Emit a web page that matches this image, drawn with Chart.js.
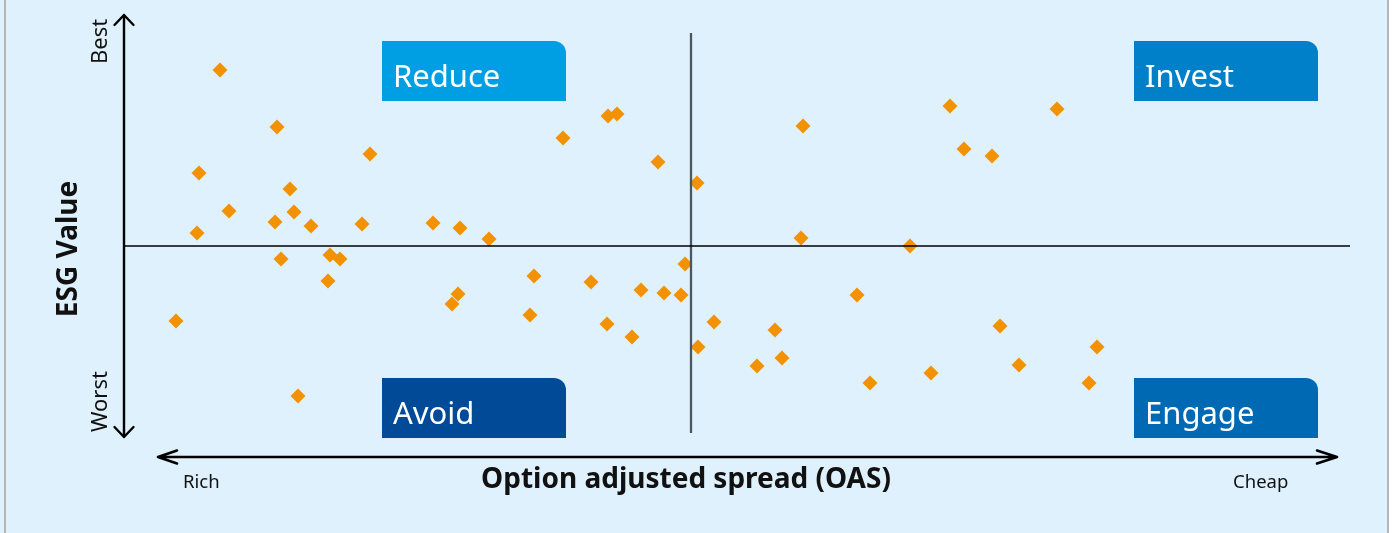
<!DOCTYPE html>
<html>
<head>
<meta charset="utf-8">
<script src="https://cdn.jsdelivr.net/npm/chart.js@4"></script>
<style>
  html, body { margin: 0; padding: 0; background: #dff1fc; }
  #wrap { width: 1392px; height: 533px; position: relative; }
</style>
</head>
<body>
<div id="wrap"><canvas id="esgChart"></canvas></div>
<script>
// OAS score (rich -> cheap) and ESG score (worst -> best) per bond
const oasValues = [
  9.5, 15.2, 24.5, 7.4, 16.5, 10.4, 16.9, 15.0, 18.6, 23.7,
  7.2, 15.6, 20.5, 21.5, 20.3, 5.1, 17.3, 48.3, 49.2, 43.8,
  53.3, 30.8, 33.5, 36.4, 56.0, 40.9, 46.6, 51.6, 53.9, 55.6,
  33.3, 32.7, 40.5, 48.2, 50.7, 57.2, 82.5, 93.2, 67.8, 83.9,
  86.7, 67.6, 78.5, 73.2, 58.9, 65.0, 87.5, 57.3, 97.2, 65.7,
  63.2, 89.4, 80.6, 74.5, 96.4
];
const esgValues = [
  36.3, 30.6, 27.9, 26.0, 24.4, 22.2, 22.1, 21.1, 20.7, 20.9,
  20.0, 17.4, 17.8, 17.4, 15.2, 11.2, 3.7, 31.7, 31.9, 29.5,
  27.1, 21.0, 20.5, 19.4, 16.9, 15.7, 15.1, 14.3, 14.0, 13.8,
  13.9, 12.9, 11.8, 10.9, 9.6, 25.0, 32.7, 32.4, 30.7, 28.4,
  27.7, 19.5, 18.7, 13.8, 11.1, 10.3, 10.7, 8.6, 8.6, 7.5,
  6.7, 6.8, 6.0, 5.0, 5.0
];
const oasRange = [0, 122.5];
const esgRange = [0, 40];
const oasSplit = 56.6;
const esgSplit = 18.7;

const quadrants = [
  { name: "Reduce", color: "#009fe3", x: 382, y: 41 },
  { name: "Invest", color: "#0080c8", x: 1134, y: 41 },
  { name: "Avoid", color: "#004a98", x: 382, y: 378 },
  { name: "Engage", color: "#0069b4", x: 1134, y: 378 },
];

const FONT = "'Noto Sans', sans-serif";

const points = oasValues.map((x, i) => ({ x, y: esgValues[i] }));

// background, frame, axis arrows and quadrant boxes
const decorPlugin = {
  id: "decor",
  beforeDraw(chart) {
    const ctx = chart.ctx;
    ctx.save();
    ctx.fillStyle = "#dff1fc";
    ctx.fillRect(0, 0, chart.width, chart.height);
    ctx.fillStyle = "#b3b7ba";
    ctx.fillRect(4, 0, 2, chart.height);
    ctx.fillRect(1387, 0, 2, chart.height);
    ctx.fillStyle = "#ffffff";
    ctx.fillRect(1389, 0, 3, chart.height);

    ctx.strokeStyle = "#000";
    ctx.lineCap = "round";
    ctx.lineJoin = "round";

    // vertical arrow
    ctx.lineWidth = 2.4;
    ctx.beginPath();
    ctx.moveTo(124, 15); ctx.lineTo(124, 437);
    ctx.moveTo(114.5, 25); ctx.lineTo(124, 15); ctx.lineTo(133.5, 25);
    ctx.moveTo(114.5, 427); ctx.lineTo(124, 437); ctx.lineTo(133.5, 427);
    ctx.stroke();

    // horizontal arrow
    ctx.lineWidth = 2.6;
    ctx.beginPath();
    ctx.moveTo(158, 457); ctx.lineTo(1337, 457);
    ctx.moveTo(177, 450.5); ctx.lineTo(158, 457); ctx.lineTo(177, 463.5);
    ctx.moveTo(1317, 450.5); ctx.lineTo(1337, 457); ctx.lineTo(1317, 463.5);
    ctx.stroke();

    // axis texts
    ctx.fillStyle = "#111";
    ctx.font = "22px " + FONT;
    ctx.textAlign = "left";
    ctx.textBaseline = "alphabetic";
    ctx.save();
    ctx.translate(107, 64); ctx.rotate(-Math.PI / 2);
    ctx.fillText("Best", 0, 0);
    ctx.restore();
    ctx.save();
    ctx.translate(107, 432); ctx.rotate(-Math.PI / 2);
    ctx.fillText("Worst", 0, 0);
    ctx.restore();

    ctx.font = "bold 28px " + FONT;
    ctx.save();
    ctx.translate(69, 249); ctx.rotate(-Math.PI / 2);
    ctx.textAlign = "center"; ctx.textBaseline = "middle";
    ctx.fillText("ESG Value", 0, 0);
    ctx.restore();

    ctx.textAlign = "center";
    ctx.font = "bold 28px " + FONT;
    ctx.fillText("Option adjusted spread (OAS)", 686, 488);

    ctx.textAlign = "left";
    ctx.font = "18.5px " + FONT;
    ctx.fillText("Rich", 183, 488);
    ctx.fillText("Cheap", 1233, 488);

    // quadrant boxes
    quadrants.forEach((q) => {
      ctx.fillStyle = q.color;
      ctx.beginPath();
      ctx.roundRect(q.x, q.y, 184, 60, [0, 12, 0, 0]);
      ctx.fill();
      ctx.fillStyle = "#fff";
      ctx.font = "31px " + FONT;
      ctx.fillText(q.name, q.x + 11, q.y + 46);
    });
    ctx.restore();
  },
  afterDatasetsDraw(chart) {
    const ctx = chart.ctx;
    const xs = chart.scales.x;
    const ys = chart.scales.y;
    const px = xs.getPixelForValue(oasSplit);
    const py = ys.getPixelForValue(esgSplit);
    ctx.save();
    ctx.strokeStyle = "#4b5661";
    ctx.lineWidth = 2.3;
    ctx.beginPath();
    ctx.moveTo(px, ys.top); ctx.lineTo(px, ys.bottom);
    ctx.stroke();
    ctx.strokeStyle = "#000";
    ctx.lineWidth = 1.5;
    ctx.beginPath();
    ctx.moveTo(xs.left, py); ctx.lineTo(xs.right, py);
    ctx.stroke();
    ctx.restore();
  },
};

new Chart(document.getElementById("esgChart"), {
  type: "scatter",
  data: {
    datasets: [{
      data: points,
      pointStyle: "rectRot",
      pointRadius: 7.5,
      pointHoverRadius: 7.5,
      backgroundColor: "#f39200",
      borderColor: "#f39200",
      borderWidth: 0,
      clip: false,
    }],
  },
  options: {
    responsive: true,
    maintainAspectRatio: false,
    animation: false,
    layout: { padding: { left: 125, right: 42, top: 33, bottom: 100 } },
    plugins: { legend: { display: false }, tooltip: { enabled: false } },
    scales: {
      x: { type: "linear", min: oasRange[0], max: oasRange[1], display: false },
      y: { type: "linear", min: esgRange[0], max: esgRange[1], display: false },
    },
  },
  plugins: [decorPlugin],
});
</script>
</body>
</html>
